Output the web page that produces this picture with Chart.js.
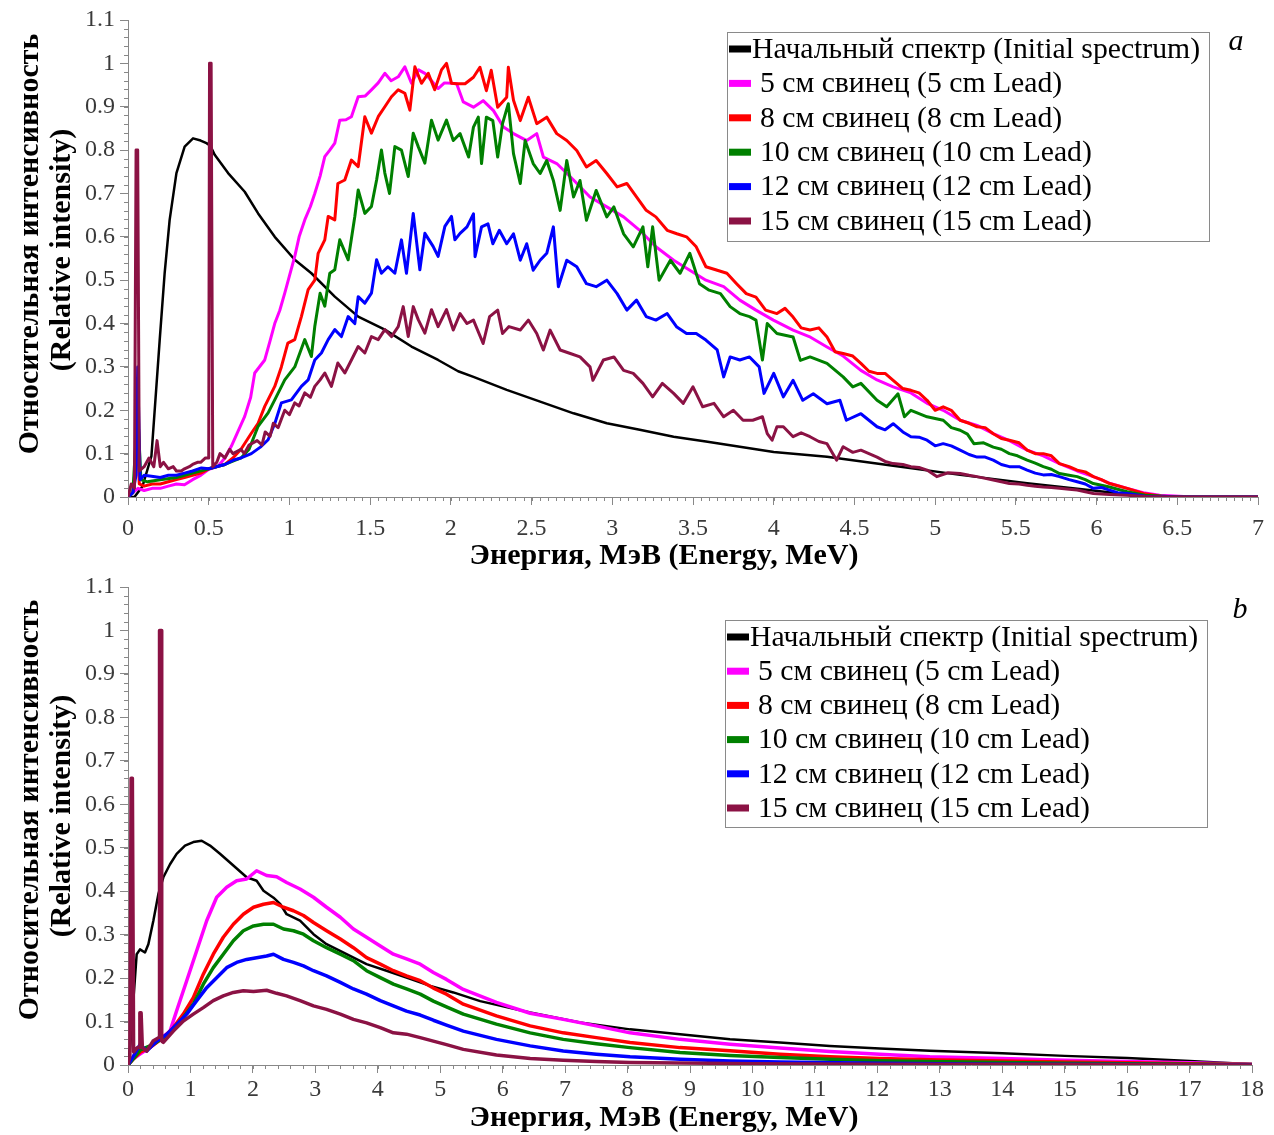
<!DOCTYPE html>
<html><head><meta charset="utf-8">
<script src="https://cdn.jsdelivr.net/npm/chart.js@4"></script>
<style>
html,body{margin:0;padding:0;background:#fff;}
#wrap{position:relative;width:1274px;height:1135px;background:#fff;}
.panel{position:absolute;left:0;width:1274px;}
</style></head><body>
<div id="wrap">
<div class="panel" style="top:0;height:580px"><canvas id="ca"></canvas></div>
<div class="panel" style="top:567px;height:568px"><canvas id="cb"></canvas></div>
</div>
<script>
// ---------- labels ----------
const seriesLabels = ['Начальный спектр (Initial spectrum)','5 см свинец (5 cm Lead)','8 см свинец (8 cm Lead)','10 см свинец (10 cm Lead)','12 см свинец (12 cm Lead)','15 см свинец (15 cm Lead)'];
const seriesColors = ['#000000','#ff00ff','#ff0000','#008000','#0000ff','#8b1244'];
const yTitleLines = ['Относительная интенсивность','(Relative intensity)'];
const xTitle = 'Энергия, МэВ (Energy, MeV)';
const yTicks = [0,0.1,0.2,0.3,0.4,0.5,0.6,0.7,0.8,0.9,1,1.1];
const xTicksA = [0,0.5,1,1.5,2,2.5,3,3.5,4,4.5,5,5.5,6,6.5,7];
const xTicksB = [0,1,2,3,4,5,6,7,8,9,10,11,12,13,14,15,16,17,18];

// ---------- panel a: [energy MeV, relative intensity] ----------
const initialA = [[0,0],[0.04,0],[0.09,0.025],[0.145,0.094],[0.196,0.36],[0.227,0.516],[0.258,0.639],[0.30,0.747],[0.351,0.808],[0.403,0.827],[0.45,0.822],[0.486,0.816],[0.51,0.81],[0.537,0.789],[0.62,0.747],[0.723,0.704],[0.806,0.654],[0.909,0.60],[1.033,0.547],[1.136,0.516],[1.281,0.462],[1.426,0.416],[1.591,0.386],[1.756,0.347],[1.921,0.316],[2.045,0.29],[2.14,0.277],[2.346,0.247],[2.553,0.22],[2.76,0.193],[2.966,0.17],[3.17,0.155],[3.38,0.139],[3.58,0.128],[3.79,0.116],[4.0,0.104],[4.33,0.093],[4.74,0.072],[5.155,0.051],[5.57,0.032],[5.98,0.015],[6.29,0.002],[6.5,0],[7,0]];
const lead5A = [[0,0],[0.03,0.01],[0.062,0.02],[0.1,0.015],[0.15,0.02],[0.2,0.02],[0.25,0.025],[0.3,0.03],[0.35,0.028],[0.4,0.04],[0.45,0.05],[0.496,0.063],[0.558,0.071],[0.6,0.09],[0.64,0.117],[0.68,0.15],[0.723,0.186],[0.76,0.23],[0.785,0.286],[0.847,0.316],[0.88,0.36],[0.909,0.40],[0.94,0.43],[0.971,0.47],[1.0,0.51],[1.033,0.555],[1.06,0.60],[1.095,0.639],[1.13,0.67],[1.157,0.70],[1.19,0.74],[1.219,0.785],[1.25,0.80],[1.281,0.816],[1.312,0.869],[1.35,0.87],[1.384,0.877],[1.426,0.923],[1.47,0.925],[1.508,0.939],[1.55,0.955],[1.591,0.977],[1.63,0.96],[1.674,0.969],[1.715,0.992],[1.756,0.954],[1.8,0.985],[1.839,0.977],[1.88,0.96],[1.921,0.942],[1.96,0.955],[2.004,0.954],[2.036,0.953],[2.077,0.911],[2.14,0.899],[2.2,0.914],[2.264,0.891],[2.326,0.853],[2.388,0.838],[2.47,0.822],[2.532,0.838],[2.573,0.784],[2.656,0.769],[2.76,0.731],[2.862,0.692],[2.966,0.669],[3.07,0.646],[3.17,0.615],[3.27,0.577],[3.38,0.546],[3.48,0.523],[3.58,0.50],[3.69,0.485],[3.79,0.454],[3.89,0.431],[3.998,0.408],[4.12,0.385],[4.22,0.37],[4.33,0.346],[4.43,0.325],[4.54,0.292],[4.64,0.27],[4.74,0.254],[4.85,0.24],[4.95,0.216],[5.05,0.2],[5.155,0.177],[5.26,0.165],[5.36,0.146],[5.46,0.13],[5.57,0.108],[5.67,0.095],[5.77,0.077],[5.88,0.06],[5.98,0.047],[6.08,0.032],[6.19,0.02],[6.29,0.01],[6.39,0.004],[6.6,0],[7,0]];
const lead8A = [[0,0],[0.03,0.01],[0.06,0.12],[0.07,0.03],[0.1,0.025],[0.15,0.03],[0.2,0.03],[0.25,0.035],[0.3,0.04],[0.35,0.045],[0.4,0.05],[0.45,0.055],[0.5,0.065],[0.55,0.07],[0.6,0.075],[0.65,0.09],[0.7,0.11],[0.764,0.147],[0.806,0.17],[0.847,0.209],[0.909,0.255],[0.95,0.30],[0.99,0.355],[1.033,0.363],[1.074,0.416],[1.116,0.478],[1.157,0.50],[1.178,0.562],[1.219,0.593],[1.24,0.647],[1.281,0.639],[1.30,0.723],[1.343,0.731],[1.384,0.777],[1.426,0.762],[1.467,0.877],[1.508,0.839],[1.55,0.877],[1.591,0.90],[1.632,0.923],[1.674,0.939],[1.715,0.931],[1.746,0.892],[1.777,0.992],[1.818,0.954],[1.86,0.977],[1.90,0.939],[1.942,0.985],[1.973,1.0],[2.004,0.954],[2.036,0.953],[2.088,0.953],[2.14,0.968],[2.18,0.991],[2.22,0.937],[2.25,0.984],[2.29,0.899],[2.346,0.922],[2.356,0.991],[2.388,0.915],[2.43,0.868],[2.48,0.922],[2.532,0.861],[2.594,0.876],[2.656,0.838],[2.718,0.822],[2.78,0.799],[2.84,0.761],[2.90,0.776],[2.966,0.746],[3.03,0.715],[3.09,0.723],[3.15,0.692],[3.21,0.661],[3.27,0.646],[3.34,0.615],[3.40,0.607],[3.46,0.60],[3.52,0.577],[3.58,0.531],[3.65,0.523],[3.71,0.516],[3.77,0.492],[3.83,0.469],[3.89,0.461],[3.95,0.431],[4.02,0.423],[4.07,0.435],[4.12,0.415],[4.17,0.39],[4.225,0.385],[4.28,0.39],[4.33,0.369],[4.38,0.335],[4.43,0.331],[4.49,0.325],[4.54,0.308],[4.59,0.29],[4.64,0.285],[4.69,0.285],[4.74,0.269],[4.8,0.25],[4.85,0.246],[4.9,0.24],[4.95,0.223],[5.0,0.2],[5.05,0.208],[5.1,0.2],[5.155,0.177],[5.21,0.17],[5.26,0.162],[5.31,0.16],[5.36,0.146],[5.41,0.135],[5.46,0.131],[5.52,0.125],[5.57,0.108],[5.62,0.1],[5.67,0.100],[5.72,0.095],[5.77,0.077],[5.83,0.07],[5.88,0.062],[5.93,0.058],[5.98,0.047],[6.03,0.04],[6.08,0.031],[6.13,0.026],[6.19,0.02],[6.24,0.014],[6.29,0.008],[6.4,0.002],[6.6,0],[7,0]];
const lead10A = [[0,0],[0.03,0.01],[0.06,0.2],[0.08,0.04],[0.12,0.035],[0.2,0.04],[0.3,0.045],[0.4,0.055],[0.5,0.065],[0.6,0.075],[0.7,0.09],[0.75,0.11],[0.806,0.163],[0.868,0.194],[0.909,0.224],[0.971,0.27],[1.033,0.30],[1.095,0.363],[1.136,0.324],[1.157,0.393],[1.19,0.47],[1.219,0.44],[1.25,0.516],[1.281,0.524],[1.312,0.593],[1.364,0.547],[1.405,0.647],[1.426,0.708],[1.467,0.654],[1.508,0.67],[1.54,0.731],[1.57,0.80],[1.591,0.747],[1.62,0.70],[1.653,0.808],[1.694,0.80],[1.736,0.739],[1.767,0.839],[1.798,0.808],[1.839,0.77],[1.88,0.869],[1.921,0.823],[1.973,0.869],[2.015,0.822],[2.057,0.838],[2.11,0.784],[2.14,0.853],[2.17,0.876],[2.19,0.769],[2.22,0.876],[2.26,0.868],[2.29,0.784],[2.32,0.861],[2.356,0.907],[2.388,0.792],[2.43,0.723],[2.46,0.822],[2.51,0.769],[2.553,0.746],[2.594,0.776],[2.635,0.73],[2.677,0.661],[2.718,0.776],[2.76,0.692],[2.8,0.73],[2.84,0.638],[2.90,0.707],[2.966,0.646],[3.01,0.669],[3.07,0.607],[3.13,0.577],[3.19,0.623],[3.22,0.531],[3.25,0.623],[3.29,0.50],[3.36,0.546],[3.42,0.516],[3.48,0.562],[3.54,0.492],[3.6,0.477],[3.67,0.469],[3.73,0.439],[3.79,0.423],[3.85,0.416],[3.89,0.408],[3.93,0.316],[3.96,0.40],[4.02,0.377],[4.12,0.369],[4.165,0.315],[4.225,0.323],[4.33,0.308],[4.43,0.277],[4.49,0.254],[4.54,0.262],[4.64,0.223],[4.70,0.208],[4.77,0.238],[4.81,0.185],[4.85,0.2],[4.95,0.185],[5.05,0.177],[5.1,0.16],[5.155,0.154],[5.2,0.145],[5.24,0.123],[5.3,0.125],[5.36,0.115],[5.41,0.11],[5.46,0.10],[5.51,0.095],[5.57,0.085],[5.62,0.078],[5.67,0.07],[5.72,0.064],[5.77,0.054],[5.83,0.05],[5.88,0.047],[5.93,0.04],[5.98,0.031],[6.03,0.027],[6.08,0.023],[6.13,0.018],[6.19,0.012],[6.3,0.004],[6.5,0],[7,0]];
const lead12A = [[0,0],[0.03,0.01],[0.05,0.05],[0.06,0.30],[0.075,0.04],[0.1,0.05],[0.145,0.048],[0.2,0.045],[0.25,0.05],[0.3,0.05],[0.35,0.055],[0.4,0.06],[0.455,0.067],[0.5,0.065],[0.558,0.071],[0.6,0.075],[0.66,0.086],[0.7,0.09],[0.764,0.10],[0.82,0.115],[0.868,0.132],[0.91,0.17],[0.95,0.217],[1.012,0.224],[1.074,0.255],[1.116,0.27],[1.157,0.316],[1.198,0.332],[1.24,0.363],[1.281,0.386],[1.322,0.37],[1.364,0.416],[1.405,0.40],[1.426,0.462],[1.467,0.447],[1.508,0.47],[1.54,0.547],[1.57,0.516],[1.61,0.531],[1.653,0.516],[1.694,0.593],[1.725,0.516],[1.767,0.654],[1.808,0.524],[1.839,0.608],[1.89,0.578],[1.921,0.555],[1.963,0.624],[2.004,0.647],[2.025,0.593],[2.057,0.608],[2.1,0.623],[2.14,0.653],[2.15,0.554],[2.19,0.623],[2.23,0.63],[2.26,0.584],[2.3,0.615],[2.346,0.584],[2.388,0.607],[2.43,0.546],[2.47,0.584],[2.51,0.523],[2.553,0.546],[2.594,0.562],[2.635,0.623],[2.666,0.485],[2.718,0.546],[2.78,0.531],[2.84,0.492],[2.90,0.485],[2.966,0.50],[3.03,0.469],[3.09,0.431],[3.15,0.454],[3.21,0.416],[3.27,0.408],[3.34,0.423],[3.40,0.392],[3.46,0.377],[3.52,0.377],[3.58,0.362],[3.65,0.339],[3.69,0.277],[3.73,0.323],[3.79,0.316],[3.85,0.323],[3.91,0.30],[3.94,0.239],[4.0,0.285],[4.06,0.231],[4.12,0.269],[4.18,0.223],[4.245,0.238],[4.33,0.215],[4.41,0.223],[4.45,0.177],[4.54,0.192],[4.64,0.162],[4.69,0.155],[4.74,0.169],[4.8,0.15],[4.85,0.139],[4.9,0.138],[4.95,0.131],[5.0,0.118],[5.05,0.123],[5.1,0.118],[5.155,0.108],[5.21,0.098],[5.26,0.092],[5.31,0.092],[5.36,0.085],[5.41,0.075],[5.46,0.07],[5.52,0.07],[5.57,0.062],[5.62,0.055],[5.67,0.051],[5.72,0.052],[5.77,0.047],[5.83,0.04],[5.88,0.035],[5.93,0.03],[5.98,0.02],[6.03,0.022],[6.08,0.016],[6.13,0.01],[6.19,0.008],[6.3,0.002],[6.5,0],[7,0]];
const lead15A = [[0,0],[0.02,0.03],[0.04,0.02],[0.05,0.80],[0.06,0.80],[0.07,0.06],[0.1,0.07],[0.13,0.09],[0.16,0.07],[0.18,0.13],[0.2,0.07],[0.22,0.08],[0.25,0.065],[0.28,0.07],[0.3,0.06],[0.33,0.06],[0.35,0.065],[0.38,0.07],[0.4,0.075],[0.43,0.08],[0.45,0.08],[0.48,0.09],[0.50,0.09],[0.505,1.0],[0.515,1.0],[0.525,0.07],[0.55,0.08],[0.57,0.10],[0.6,0.09],[0.63,0.11],[0.65,0.10],[0.7,0.11],[0.72,0.10],[0.75,0.12],[0.8,0.13],[0.83,0.12],[0.85,0.15],[0.88,0.14],[0.9,0.17],[0.93,0.16],[0.971,0.20],[1.0,0.19],[1.033,0.217],[1.06,0.21],[1.095,0.24],[1.13,0.23],[1.157,0.255],[1.19,0.27],[1.219,0.286],[1.26,0.255],[1.30,0.309],[1.343,0.286],[1.384,0.316],[1.426,0.347],[1.467,0.332],[1.508,0.37],[1.55,0.363],[1.591,0.386],[1.632,0.37],[1.674,0.393],[1.705,0.439],[1.736,0.37],[1.767,0.439],[1.798,0.409],[1.839,0.378],[1.88,0.432],[1.921,0.393],[1.973,0.432],[2.015,0.385],[2.057,0.423],[2.1,0.40],[2.14,0.408],[2.2,0.354],[2.24,0.416],[2.29,0.431],[2.32,0.377],[2.36,0.393],[2.43,0.385],[2.48,0.408],[2.532,0.377],[2.573,0.339],[2.615,0.385],[2.677,0.339],[2.74,0.331],[2.8,0.323],[2.862,0.30],[2.88,0.269],[2.945,0.316],[3.01,0.323],[3.07,0.292],[3.13,0.285],[3.19,0.262],[3.25,0.231],[3.31,0.262],[3.38,0.239],[3.44,0.216],[3.5,0.254],[3.56,0.208],[3.63,0.216],[3.69,0.185],[3.75,0.2],[3.81,0.177],[3.87,0.177],[3.93,0.185],[3.96,0.146],[3.99,0.131],[4.02,0.162],[4.06,0.162],[4.12,0.139],[4.17,0.148],[4.225,0.139],[4.28,0.128],[4.33,0.123],[4.39,0.085],[4.43,0.116],[4.49,0.103],[4.54,0.108],[4.59,0.1],[4.64,0.092],[4.69,0.082],[4.74,0.077],[4.8,0.075],[4.85,0.07],[4.9,0.068],[4.95,0.062],[5.01,0.047],[5.08,0.056],[5.155,0.054],[5.21,0.05],[5.26,0.047],[5.31,0.043],[5.36,0.039],[5.41,0.035],[5.46,0.031],[5.52,0.03],[5.57,0.027],[5.62,0.025],[5.67,0.023],[5.72,0.022],[5.77,0.02],[5.83,0.018],[5.88,0.016],[5.93,0.012],[5.98,0.008],[6.08,0.006],[6.19,0.004],[6.3,0.001],[6.5,0],[7,0]];

// ---------- panel b ----------
const initialB = [[0,0],[0.04,0.05],[0.085,0.147],[0.139,0.255],[0.192,0.266],[0.272,0.259],[0.326,0.278],[0.406,0.332],[0.486,0.393],[0.566,0.432],[0.673,0.462],[0.779,0.486],[0.913,0.505],[1.046,0.513],[1.18,0.516],[1.313,0.505],[1.473,0.486],[1.687,0.459],[1.9,0.432],[2.06,0.424],[2.17,0.401],[2.33,0.385],[2.44,0.37],[2.54,0.347],[2.755,0.332],[2.97,0.301],[3.18,0.278],[3.5,0.255],[3.82,0.232],[4.14,0.217],[4.46,0.201],[4.84,0.182],[5.21,0.167],[5.64,0.147],[6.44,0.121],[7.24,0.098],[8.04,0.082],[8.84,0.071],[9.64,0.059],[10.44,0.052],[11.24,0.044],[12.04,0.038],[12.84,0.033],[14,0.027],[15,0.021],[16,0.016],[17,0.009],[18,0.002]];
const lead5B = [[0,0],[0.085,0.014],[0.192,0.025],[0.35,0.04],[0.51,0.059],[0.673,0.078],[0.779,0.125],[0.94,0.194],[1.1,0.263],[1.26,0.332],[1.42,0.386],[1.58,0.409],[1.74,0.424],[1.9,0.428],[2.06,0.447],[2.22,0.436],[2.38,0.433],[2.54,0.42],[2.755,0.405],[2.97,0.386],[3.18,0.363],[3.4,0.34],[3.61,0.313],[3.82,0.294],[4.04,0.274],[4.25,0.255],[4.46,0.244],[4.68,0.232],[4.89,0.213],[5.1,0.197],[5.37,0.174],[5.9,0.144],[6.44,0.119],[6.97,0.105],[7.5,0.09],[8.04,0.074],[8.84,0.059],[9.64,0.048],[10.44,0.039],[11.24,0.031],[12.04,0.025],[12.84,0.019],[14,0.015],[15,0.011],[16,0.008],[17,0.005],[18,0.002]];
const lead8B = [[0,0],[0.085,0.014],[0.2,0.03],[0.35,0.04],[0.566,0.063],[0.726,0.086],[0.886,0.117],[1.046,0.155],[1.206,0.209],[1.366,0.255],[1.526,0.294],[1.687,0.324],[1.847,0.347],[2.01,0.363],[2.17,0.37],[2.33,0.374],[2.49,0.363],[2.65,0.355],[2.81,0.344],[2.97,0.328],[3.18,0.309],[3.4,0.29],[3.61,0.27],[3.82,0.247],[4.04,0.232],[4.25,0.217],[4.46,0.205],[4.68,0.194],[4.89,0.177],[5.1,0.163],[5.37,0.14],[5.9,0.113],[6.44,0.09],[6.97,0.074],[7.5,0.063],[8.04,0.052],[8.84,0.04],[9.64,0.033],[10.44,0.025],[11.24,0.019],[12.04,0.015],[12.84,0.012],[14,0.009],[15,0.007],[16,0.005],[17,0.003],[18,0.001]];
const lead10B = [[0,0],[0.085,0.014],[0.2,0.035],[0.4,0.047],[0.566,0.063],[0.726,0.082],[0.886,0.109],[1.046,0.14],[1.206,0.186],[1.366,0.224],[1.526,0.255],[1.687,0.286],[1.847,0.309],[2.01,0.32],[2.17,0.324],[2.33,0.324],[2.49,0.313],[2.65,0.309],[2.81,0.301],[2.97,0.286],[3.18,0.27],[3.4,0.255],[3.61,0.24],[3.82,0.217],[4.04,0.201],[4.25,0.186],[4.46,0.175],[4.68,0.163],[4.89,0.147],[5.1,0.134],[5.37,0.117],[5.9,0.094],[6.44,0.074],[6.97,0.059],[7.5,0.049],[8.04,0.04],[8.84,0.029],[9.64,0.022],[10.44,0.017],[11.24,0.013],[12.04,0.01],[12.84,0.008],[14,0.006],[15,0.004],[16,0.003],[17,0.002],[18,0.001]];
const lead12B = [[0,0],[0.085,0.02],[0.192,0.047],[0.3,0.032],[0.46,0.055],[0.62,0.07],[0.78,0.093],[0.94,0.117],[1.1,0.148],[1.26,0.178],[1.42,0.201],[1.58,0.224],[1.74,0.236],[1.9,0.243],[2.06,0.247],[2.22,0.251],[2.33,0.255],[2.49,0.243],[2.65,0.236],[2.81,0.228],[2.97,0.217],[3.18,0.205],[3.4,0.19],[3.61,0.175],[3.82,0.163],[4.04,0.148],[4.25,0.136],[4.46,0.124],[4.68,0.115],[4.89,0.103],[5.1,0.092],[5.37,0.078],[5.9,0.059],[6.44,0.044],[6.97,0.032],[7.5,0.025],[8.04,0.019],[8.84,0.013],[9.64,0.009],[10.44,0.007],[12,0.004],[14,0.002],[16,0.001],[18,0]];
const lead15B = [[0,0],[0.03,0.02],[0.05,0.66],[0.07,0.66],[0.09,0.03],[0.15,0.04],[0.18,0.04],[0.19,0.12],[0.21,0.12],[0.23,0.04],[0.3,0.032],[0.4,0.055],[0.49,0.063],[0.5,0.065],[0.505,1.0],[0.53,1.0],[0.54,0.055],[0.566,0.052],[0.726,0.078],[0.886,0.101],[1.046,0.117],[1.206,0.132],[1.366,0.148],[1.526,0.159],[1.687,0.167],[1.847,0.171],[2.01,0.169],[2.22,0.172],[2.38,0.165],[2.54,0.159],[2.755,0.148],[2.97,0.136],[3.18,0.128],[3.4,0.117],[3.61,0.105],[3.82,0.097],[4.04,0.086],[4.25,0.074],[4.46,0.071],[4.68,0.063],[4.89,0.055],[5.1,0.047],[5.37,0.036],[5.9,0.023],[6.44,0.015],[6.97,0.011],[7.5,0.008],[8.04,0.006],[10,0.003],[12,0.002],[15,0.001],[18,0]];

// ---------- styling ----------
const FONT = "'Liberation Serif','Times New Roman',serif";
const AXIS = '#888888';
const TICK_TXT = '#3a3a3a';
const drawOrder = [5,4,3,2,1,0];
Chart.defaults.font.family = FONT;

const decorPlugin = {
  id: 'decor',
  afterDraw(chart, args, o) {
    const ctx = chart.ctx, xs = chart.scales.x, ys = chart.scales.y;
    ctx.save();
    ctx.strokeStyle = AXIS; ctx.lineWidth = 1;
    const nx = Math.round((xs.max - xs.min) / o.xMinor);
    for (let i = 0; i <= nx; i++) {
      const px = Math.round(xs.getPixelForValue(xs.min + i * o.xMinor)) + 0.5;
      ctx.beginPath(); ctx.moveTo(px, ys.bottom); ctx.lineTo(px, ys.bottom + 4); ctx.stroke();
    }
    const ny = Math.round((ys.max - ys.min) / o.yMinor);
    for (let i = 0; i <= ny; i++) {
      const py = Math.round(ys.getPixelForValue(ys.min + i * o.yMinor)) + 0.5;
      ctx.beginPath(); ctx.moveTo(xs.left, py); ctx.lineTo(xs.left - 4, py); ctx.stroke();
    }
    ctx.fillStyle = '#000';
    ctx.font = "bold 30px " + FONT;
    ctx.textAlign = 'center'; ctx.textBaseline = 'middle';
    ctx.fillText(xTitle, o.xTitle[0], o.xTitle[1]);
    o.yTitle.forEach((p, i) => {
      ctx.save(); ctx.translate(p[0], p[1]); ctx.rotate(-Math.PI / 2);
      ctx.fillText(yTitleLines[i], 0, 0); ctx.restore();
    });
    ctx.font = "italic 30px " + FONT;
    ctx.fillText(o.letter, o.letterPos[0], o.letterPos[1]);
    const L = o.legend;
    ctx.fillStyle = '#fff'; ctx.fillRect(L.x, L.y, L.w, L.h);
    ctx.strokeStyle = '#8a8a8a'; ctx.lineWidth = 1;
    ctx.strokeRect(L.x + 0.5, L.y + 0.5, L.w, L.h);
    ctx.font = "29.7px " + FONT; ctx.textAlign = 'left'; ctx.textBaseline = 'middle';
    chart.data.datasets.forEach((ds, i) => {
      const cy = L.row0 + i * L.step;
      ctx.fillStyle = ds.borderColor;
      ctx.fillRect(L.x + 2, cy - 3.5, 22, 7);
      ctx.fillStyle = '#000';
      ctx.fillText(ds.label, L.x + (i === 0 ? 25 : 33), cy + 1);
    });
    ctx.restore();
  }
};

function makeChart(id, c) {
  const datasets = c.series.map((pts, i) => ({
    label: seriesLabels[i],
    data: pts.map(p => ({x: p[0], y: p[1]})),
    borderColor: seriesColors[i],
    backgroundColor: seriesColors[i],
    borderWidth: c.widths[i],
    pointRadius: 0, tension: 0, fill: false,
    order: drawOrder[i],
    borderJoinStyle: 'round'
  }));
  return new Chart(document.getElementById(id), {
    type: 'line',
    data: {datasets},
    options: {
      responsive: true, maintainAspectRatio: false, animation: false,
      layout: {padding: {top: c.top, right: c.right, left: 0, bottom: 0}},
      plugins: {legend: {display: false}, tooltip: {enabled: false}, decor: c.decor},
      scales: {
        x: {
          type: 'linear', min: 0, max: c.xTicks[c.xTicks.length - 1],
          afterBuildTicks: s => { s.ticks = c.xTicks.map(v => ({value: v})); },
          afterFit: s => { s.height = c.xAxisH; },
          ticks: {autoSkip: false, maxRotation: 0, minRotation: 0, padding: c.xPad, color: TICK_TXT, font: {size: 24}, callback: v => String(v)},
          grid: {drawOnChartArea: false, drawTicks: true, tickLength: 8, color: AXIS},
          border: {display: true, color: AXIS}
        },
        y: {
          type: 'linear', min: 0, max: 1.1,
          afterBuildTicks: s => { s.ticks = yTicks.map(v => ({value: v})); },
          afterFit: s => { s.width = 128; },
          ticks: {autoSkip: false, padding: 5, color: TICK_TXT, font: {size: 24}, callback: v => String(v)},
          grid: {drawOnChartArea: false, drawTicks: true, tickLength: 8, color: AXIS},
          border: {display: true, color: AXIS}
        }
      }
    },
    plugins: [decorPlugin]
  });
}

makeChart('ca', {
  series: [initialA, lead5A, lead8A, lead10A, lead12A, lead15A],
  widths: [2.5, 3, 3, 3, 3, 3],
  xTicks: xTicksA, top: 20, right: 16, xAxisH: 83, xPad: 9,
  decor: {xMinor: 0.05, yMinor: 0.02, xTitle: [664, 556], yTitle: [[30, 244], [62, 250]],
          letter: 'a', letterPos: [1236, 42],
          legend: {x: 727, y: 32, w: 482, h: 209, row0: 49, step: 34.4}}
});
makeChart('cb', {
  series: [initialB, lead5B, lead8B, lead10B, lead12B, lead15B],
  widths: [2.5, 3.5, 3.5, 3.5, 3.5, 3.5],
  xTicks: xTicksB, top: 20, right: 22, xAxisH: 70, xPad: 2,
  decor: {xMinor: 0.2, yMinor: 0.02, xTitle: [664, 551], yTitle: [[30, 243], [62, 249]],
          letter: 'b', letterPos: [1240, 43],
          legend: {x: 725, y: 53, w: 482, h: 207, row0: 70, step: 34.2}}
});
</script>
</body></html>
